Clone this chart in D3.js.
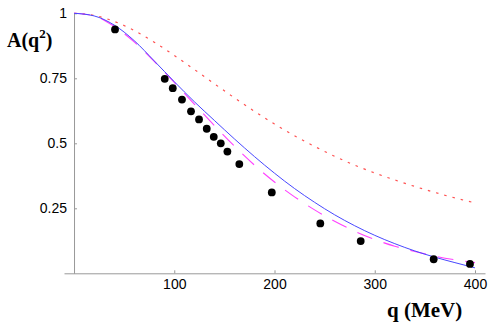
<!DOCTYPE html>
<html>
<head>
<meta charset="utf-8">
<script src="https://cdn.jsdelivr.net/npm/d3@7"></script>
<style>
  body { margin: 0; background: #fff; }
  .tick text { font-family: 'Liberation Sans', Arial, sans-serif; font-size: 14px; fill: #000; }
  .axis path, .axis line { stroke: #999; }
</style>
</head>
<body>
<div id="chart"></div>
<script>
// values
const qGrid = [0, 20, 40, 60, 80, 100, 120, 140, 160, 180, 200, 220, 240, 260, 280, 300, 320, 340, 360, 380, 400]
const solidCurve = [1.0, 0.99, 0.955, 0.895, 0.817, 0.737, 0.66, 0.588, 0.517, 0.449, 0.385, 0.326, 0.273, 0.225, 0.183, 0.146, 0.114, 0.086, 0.062, 0.041, 0.021]
const dashedCurve = [1.0, 0.99, 0.95, 0.89, 0.815, 0.734, 0.651, 0.568, 0.489, 0.416, 0.351, 0.294, 0.244, 0.2, 0.162, 0.13, 0.104, 0.084, 0.066, 0.052, 0.041]
const dottedCurve = [1.0, 0.992, 0.969, 0.934, 0.889, 0.838, 0.784, 0.729, 0.675, 0.623, 0.574, 0.529, 0.488, 0.45, 0.416, 0.386, 0.359, 0.334, 0.311, 0.29, 0.271]

const dataQ = [40.9, 90.5, 98.5, 107.7, 116.7, 124.7, 132.4, 139.4, 146.4, 153, 164.9, 197.3, 245.7, 286, 358.8, 395]
const dataA = [0.938, 0.748, 0.712, 0.668, 0.623, 0.592, 0.556, 0.525, 0.5, 0.468, 0.42, 0.311, 0.192, 0.124, 0.054, 0.036]

const xTicks = [100, 200, 300, 400]
const yTicks = [0.25, 0.5, 0.75, 1]

const width = 502
const height = 327

const svg = d3.select('#chart')
  .append('svg')
  .attr('width', width)
  .attr('height', height)

const x = d3.scaleLinear().domain([-10, 410]).range([64, 485])
const y = d3.scaleLinear().domain([0, 1]).range([273.3, 13.3])

// axes cross at origin
svg.append('g')
  .attr('class', 'axis')
  .attr('transform', `translate(0,${y(0)})`)
  .call(d3.axisBottom(x).tickValues(xTicks).tickSizeInner(-3).tickSizeOuter(0).tickPadding(6).tickFormat(d => d))

svg.append('g')
  .attr('class', 'axis')
  .attr('transform', `translate(${x(0)},0)`)
  .call(d3.axisLeft(y).tickValues(yTicks).tickSizeInner(-3).tickSizeOuter(0).tickPadding(7).tickFormat(d => d))

const line = d3.line()
  .x((d, i) => x(qGrid[i]))
  .y(d => y(d))
  .curve(d3.curveMonotoneX)

svg.append('path')
  .attr('d', line(dottedCurve))
  .attr('fill', 'none')
  .attr('stroke', '#ff5050')
  .attr('stroke-width', 1.2)
  .attr('stroke-dasharray', '2.5,6')

svg.append('path')
  .attr('d', line(dashedCurve))
  .attr('fill', 'none')
  .attr('stroke', '#ff40ff')
  .attr('stroke-width', 1.1)
  .attr('stroke-dasharray', '16,12')

svg.append('path')
  .attr('d', line(solidCurve))
  .attr('fill', 'none')
  .attr('stroke', '#4848ff')
  .attr('stroke-width', 1)

svg.selectAll('circle.pt')
  .data(dataQ)
  .enter()
  .append('circle')
  .attr('class', 'pt')
  .attr('cx', d => x(d))
  .attr('cy', (d, i) => y(dataA[i]))
  .attr('r', 3.9)
  .attr('fill', '#000')

// axis labels
const yLabel = svg.append('text')
  .attr('x', 7)
  .attr('y', 47)
  .attr('font-family', "'Liberation Serif', 'Times New Roman', serif")
  .attr('font-weight', 'bold')
  .attr('font-size', 20)
yLabel.append('tspan').text('A(q')
yLabel.append('tspan').attr('font-size', 13).attr('dy', -9).text('2')
yLabel.append('tspan').attr('dy', 9).text(')')

svg.append('text')
  .attr('x', 387)
  .attr('y', 317)
  .attr('font-family', "'Liberation Serif', 'Times New Roman', serif")
  .attr('font-weight', 'bold')
  .attr('font-size', 21)
  .text('q (MeV)')
</script>
</body>
</html>
